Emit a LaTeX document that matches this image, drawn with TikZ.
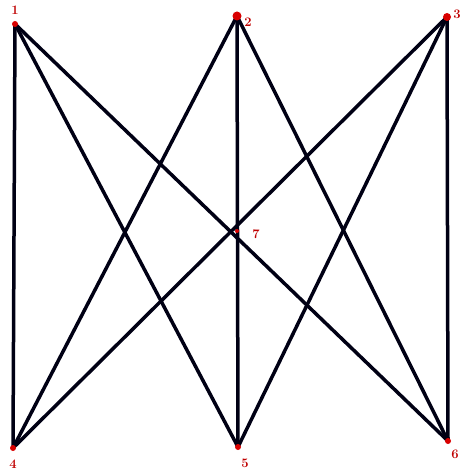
\documentclass[tikz,border=0pt]{standalone}
\begin{document}
\begin{tikzpicture}[x=1pt,y=-1pt,
  vtx/.style={circle,fill=red!85!black,inner sep=0pt,minimum size=6pt},
  lbl/.style={text=red!75!black,font=\bfseries\fontsize{13}{15}\selectfont,inner sep=0pt},
  edge/.style={line width=3.5pt,black!92!blue}]
\useasboundingbox (0,0) rectangle (461,473);
\coordinate (p1) at (15,24);
\coordinate (p2) at (237,16);
\coordinate (p3) at (447,17);
\coordinate (p4) at (13,448);
\coordinate (p5) at (238,447);
\coordinate (p6) at (448,441);
\draw[edge] (p1) -- (p4);
\draw[edge] (p1) -- (p5);
\draw[edge] (p1) -- (p6);
\draw[edge] (p2) -- (p4);
\draw[edge] (p2) -- (p5);
\draw[edge] (p2) -- (p6);
\draw[edge] (p3) -- (p4);
\draw[edge] (p3) -- (p5);
\draw[edge] (p3) -- (p6);
\node[vtx] (n1) at (p1) {};
\node[vtx,minimum size=9pt] (n2) at (p2) {};
\node[vtx,minimum size=8pt] (n3) at (p3) {};
\node[vtx] (n4) at (p4) {};
\node[vtx] (n5) at (p5) {};
\node[vtx] (n6) at (p6) {};
\node[vtx,minimum size=4pt] (n7) at (237,231) {};
\node[lbl] (l1) at (15,10) {1};
\node[lbl] (l2) at (248,22) {2};
\node[lbl] (l3) at (457,14) {3};
\node[lbl] (l4) at (13,464) {4};
\node[lbl] (l5) at (245,463) {5};
\node[lbl] (l6) at (455,454) {6};
\node[lbl] (l7) at (256,234) {7};
\end{tikzpicture}
\end{document}
